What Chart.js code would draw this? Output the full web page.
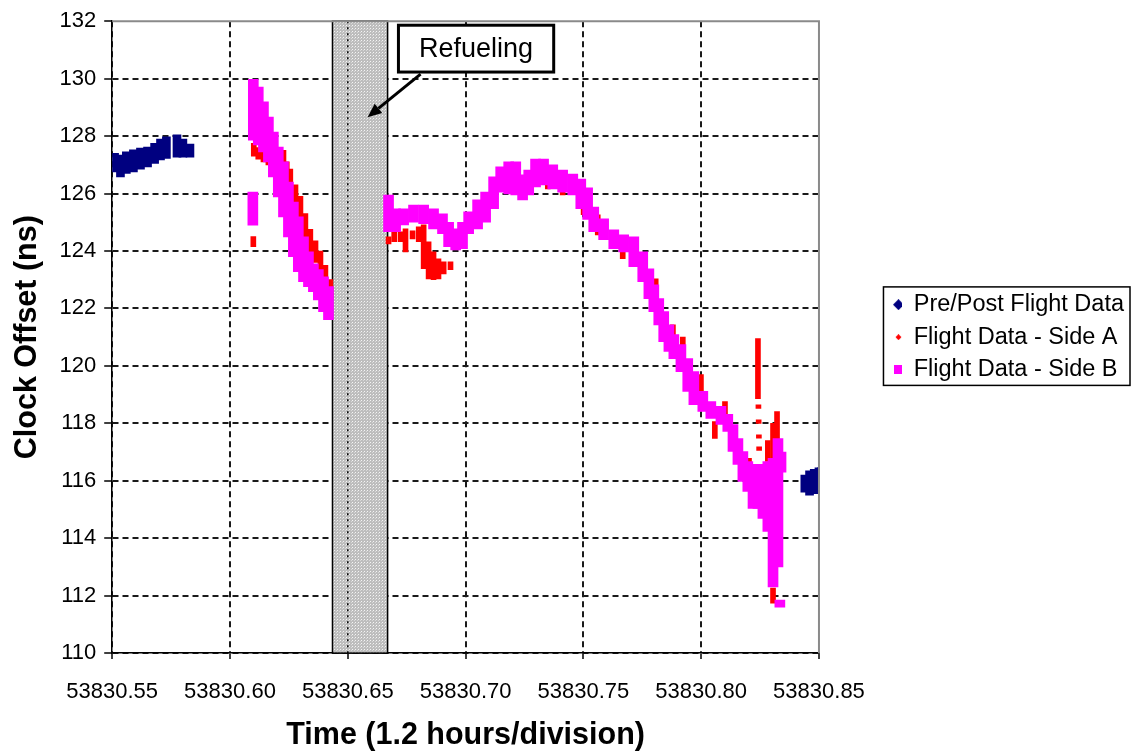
<!DOCTYPE html>
<html><head><meta charset="utf-8">
<script src="https://cdn.jsdelivr.net/npm/chart.js@4/dist/chart.umd.min.js"></script>
<style>html,body{margin:0;padding:0;background:#fff}#wrap{width:1136px;height:753px}</style>
</head><body><div id="wrap"><canvas id="c" width="1136" height="753"></canvas></div>
<script>
// ---- data: [time (MJD), low, high] of each plotted column of points ----
const prePostFlight = [
 [53830.5480,126.93,127.52],[53830.5510,126.75,127.40],[53830.5535,126.58,127.34],
 [53830.5560,126.70,127.45],[53830.5590,126.75,127.52],[53830.5620,126.85,127.58],
 [53830.5650,126.93,127.62],[53830.5680,127.05,127.75],[53830.5705,127.17,127.90],
 [53830.5730,127.22,127.97],[53830.5775,127.27,128.04],[53830.5800,127.27,127.90],
 [53830.5830,127.27,127.72],
 [53830.8440,115.60,116.20],[53830.8460,115.50,116.35],[53830.8480,115.55,116.40],
 [53830.8500,115.60,116.45],[53830.8510,115.65,116.45]
];
const flightSideA = [
 [53830.6099,124.15,124.50],[53830.6101,127.30,127.75],[53830.6120,127.20,127.60],
 [53830.6142,127.10,127.50],[53830.6163,127.00,127.60],[53830.6184,127.10,127.70],
 [53830.6205,127.10,127.60],[53830.6227,126.60,127.50],[53830.6241,126.30,127.10],
 [53830.6256,125.95,126.85],[53830.6278,125.45,126.30],[53830.6299,125.00,125.90],
 [53830.6320,124.40,125.30],[53830.6341,123.90,124.75],[53830.6363,123.60,124.35],
 [53830.6384,123.20,124.00],[53830.6405,122.75,123.50],[53830.6426,122.30,123.00],
 [53830.6673,124.25,124.49],[53830.6697,124.32,124.67],[53830.6724,124.32,124.67],
 [53830.6745,123.97,124.77],[53830.6775,124.42,124.70],[53830.6801,124.32,124.84],
 [53830.6822,123.38,124.91],[53830.6843,123.03,124.32],[53830.6864,123.00,123.97],
 [53830.6885,123.03,123.73],[53830.6907,123.20,123.62],[53830.6936,123.35,123.62],
 [53830.7349,126.16,126.40],[53830.7412,125.95,126.30],[53830.7501,125.26,125.70],
 [53830.7561,124.56,125.26],[53830.7667,123.73,124.08],[53830.7807,122.48,123.03],
 [53830.7880,120.80,121.43],[53830.7922,120.39,121.00],[53830.7999,119.00,119.70],
 [53830.8058,117.47,118.06],[53830.8101,118.31,118.76],[53830.8203,116.22,116.78],
 [53830.8241,118.86,120.95],[53830.8243,118.52,118.64],[53830.8244,118.00,118.12],
 [53830.8245,117.48,117.60],[53830.8246,117.06,117.18],[53830.8283,116.67,117.40],
 [53830.8305,116.67,118.00],[53830.8322,117.00,118.41],[53830.8305,111.74,112.26]
];
const flightSideB = [
 [53830.6097,124.90,126.05],
 [53830.6099,127.86,129.98],[53830.6120,127.69,129.71],[53830.6142,127.45,129.19],
 [53830.6163,127.10,128.66],[53830.6184,126.58,128.14],[53830.6205,125.88,127.62],
 [53830.6227,125.19,127.10],[53830.6248,124.49,126.40],[53830.6269,123.80,125.70],
 [53830.6290,123.28,125.19],[53830.6312,122.93,124.49],[53830.6333,122.76,123.97],
 [53830.6354,122.58,123.55],[53830.6375,122.30,123.35],[53830.6397,121.89,123.10],
 [53830.6418,121.61,122.76],
 [53830.6673,124.67,125.95],[53830.6703,124.67,125.47],[53830.6737,124.91,125.47],
 [53830.6779,125.00,125.60],[53830.6822,124.95,125.60],[53830.6864,124.77,125.47],
 [53830.6902,124.60,125.29],[53830.6928,124.15,125.00],[53830.6958,124.04,124.77],
 [53830.6987,124.08,125.00],[53830.7013,124.60,125.36],[53830.7051,124.77,125.78],
 [53830.7085,125.00,126.05],[53830.7119,125.47,126.58],[53830.7149,126.05,126.93],
 [53830.7183,125.99,127.10],[53830.7213,125.95,127.10],[53830.7242,125.78,126.65],
 [53830.7268,125.95,126.82],[53830.7297,126.23,127.20],[53830.7331,126.30,127.20],
 [53830.7370,126.16,127.00],[53830.7412,126.05,126.82],[53830.7455,125.95,126.68],
 [53830.7489,125.47,126.50],[53830.7518,125.10,126.20],[53830.7544,124.67,125.53],
 [53830.7586,124.39,125.12],[53830.7629,124.08,124.74],[53830.7671,123.97,124.56],
 [53830.7714,123.45,124.49],[53830.7752,122.93,123.97],[53830.7778,122.34,123.38],
 [53830.7799,121.89,122.82],[53830.7820,121.43,122.34],[53830.7841,120.84,121.89],
 [53830.7863,120.50,121.43],[53830.7884,120.25,121.09],[53830.7914,119.80,120.74],
 [53830.7943,119.11,120.25],[53830.7969,118.65,119.80],[53830.8007,118.41,119.11],
 [53830.8041,118.17,118.76],[53830.8084,117.96,118.59],[53830.8113,117.72,118.31],
 [53830.8135,117.02,117.96],[53830.8156,116.57,117.47],[53830.8177,115.98,117.02],
 [53830.8198,115.63,116.67],[53830.8220,115.04,116.43],[53830.8241,115.04,116.57],
 [53830.8262,114.69,116.57],[53830.8283,114.24,116.67],[53830.8305,112.30,116.78],
 [53830.8326,113.00,117.47],[53830.8339,116.30,117.00],[53830.8334,111.60,111.85]
];
const seriesNames = ['Pre/Post Flight Data','Flight Data - Side A','Flight Data - Side B'];
const xMin = 53830.55, xMax = 53830.85, xStep = 0.05;
const yMin = 110, yMax = 132, yStep = 2;
const refuelStart = 53830.6435, refuelEnd = 53830.6669;
const refuelText = 'Refueling';
const calloutBox = {x1: 53830.6715, x2: 53830.7374, y1: 130.23, y2: 131.86};
const arrowFrom = {x: 53830.6809, y: 130.16};
const arrowTo = {x: 53830.6584, y: 128.66};

const FONT = '"Liberation Sans", Arial, Helvetica, sans-serif';
Chart.defaults.font.family = FONT;
Chart.defaults.color = '#000';

const ICON_W = 74;
function icon(kind, color, size) {
  const c = document.createElement('canvas');
  c.width = ICON_W; c.height = size;
  const g = c.getContext('2d');
  g.fillStyle = color;
  const x0 = ICON_W - 3.5 - size / 2;
  if (kind === 'diamond') {
    g.beginPath(); g.moveTo(x0 + size/2, 0); g.lineTo(x0 + size, size/2); g.lineTo(x0 + size/2, size); g.lineTo(x0, size/2); g.closePath(); g.fill();
  } else g.fillRect(x0, 0, size, size);
  return c;
}
const legendIcons = [icon('diamond','#000080',11), icon('diamond','#ff0000',6), icon('square','#ff00ff',9)];

function toBars(arr){ return arr.map(r => ({x: r[0], y: [r[1], r[2]]})); }

const pat = (() => {
  const c = document.createElement('canvas'); c.width = 3; c.height = 3;
  const g = c.getContext('2d'); g.fillStyle = '#bdbdbd'; g.fillRect(0,0,3,3);
  g.fillStyle = '#f4f4f4'; g.fillRect(1,1,1,1);
  g.fillStyle = '#d8d8d8'; g.fillRect(0,2,1,1);
  return c;
})();

const isEdge = (v, e) => Math.abs(v - e) < 1e-6;

const decor = {
  id: 'decor',
  beforeDatasetsDraw(chart) {
    const {ctx, scales: {x, y}} = chart;
    const l = x.getPixelForValue(refuelStart), r = x.getPixelForValue(refuelEnd);
    const t = y.getPixelForValue(yMax), b = y.getPixelForValue(yMin);
    ctx.save();
    ctx.fillStyle = ctx.createPattern(pat, 'repeat');
    ctx.fillRect(l, t, r - l, b - t);
    const gx = x.getPixelForValue(53830.65);
    ctx.strokeStyle = '#000'; ctx.lineWidth = 1.5; ctx.setLineDash([2, 4]);
    ctx.beginPath(); ctx.moveTo(gx, t); ctx.lineTo(gx, b); ctx.stroke();
    ctx.setLineDash([]); ctx.lineWidth = 1.5;
    ctx.strokeRect(l, t, r - l, b - t);
    ctx.restore();
  },
  afterDatasetsDraw(chart) {
    const {ctx, scales: {x, y}, chartArea: a} = chart;
    ctx.save();
    ctx.strokeStyle = '#8a8a8a'; ctx.lineWidth = 2; ctx.setLineDash([]);
    ctx.beginPath(); ctx.moveTo(a.left, a.top); ctx.lineTo(a.right, a.top); ctx.lineTo(a.right, a.bottom); ctx.stroke();
    const bx1 = x.getPixelForValue(calloutBox.x1), bx2 = x.getPixelForValue(calloutBox.x2);
    const by1 = y.getPixelForValue(calloutBox.y2), by2 = y.getPixelForValue(calloutBox.y1);
    ctx.fillStyle = '#fff'; ctx.fillRect(bx1, by1, bx2 - bx1, by2 - by1);
    ctx.strokeStyle = '#000'; ctx.lineWidth = 3; ctx.strokeRect(bx1, by1, bx2 - bx1, by2 - by1);
    ctx.fillStyle = '#000'; ctx.font = '27px ' + FONT; ctx.textAlign = 'center'; ctx.textBaseline = 'middle';
    ctx.fillText(refuelText, (bx1 + bx2) / 2, (by1 + by2) / 2 + 1);
    const fx = x.getPixelForValue(arrowFrom.x), fy = y.getPixelForValue(arrowFrom.y);
    const tx = x.getPixelForValue(arrowTo.x), ty = y.getPixelForValue(arrowTo.y);
    const ang = Math.atan2(ty - fy, tx - fx), hl = 14, hw = 6;
    const sx = tx - hl * Math.cos(ang), sy = ty - hl * Math.sin(ang);
    ctx.lineWidth = 3; ctx.beginPath(); ctx.moveTo(fx, fy); ctx.lineTo(sx, sy); ctx.stroke();
    ctx.beginPath(); ctx.moveTo(tx, ty);
    ctx.lineTo(sx + hw * Math.sin(ang), sy - hw * Math.cos(ang));
    ctx.lineTo(sx - hw * Math.sin(ang), sy + hw * Math.cos(ang));
    ctx.closePath(); ctx.fill();
    ctx.restore();
  },
  afterDraw(chart) {
    const lg = chart.legend; if (!lg || !lg.legendHitBoxes.length) return;
    const hb = lg.legendHitBoxes, last = hb[hb.length - 1];
    const ctx = chart.ctx;
    const left = hb[0].left + ICON_W - 3.5 - 15, top = hb[0].top - 6;
    const right = Math.max(...hb.map(h => h.left + h.width)) + 6;
    const bottom = last.top + last.height + 4;
    ctx.save(); ctx.strokeStyle = '#000'; ctx.lineWidth = 1.5;
    ctx.strokeRect(left, top, right - left, bottom - top);
    ctx.restore();
  }
};

const gridColor = (edge) => (c) => (c.tick && isEdge(c.tick.value, edge)) ? 'rgba(0,0,0,0)' : '#1a1a1a';

new Chart(document.getElementById('c'), {
  type: 'bar',
  data: {
    datasets: [
      {label: seriesNames[0], data: toBars(prePostFlight), backgroundColor: '#000080', barThickness: 8, order: 2},
      {label: seriesNames[1], data: toBars(flightSideA), backgroundColor: '#ff0000', barThickness: 5, order: 1},
      {label: seriesNames[2], data: toBars(flightSideB), backgroundColor: '#ff00ff', barThickness: 10, order: 0}
    ]
  },
  options: {
    responsive: false, devicePixelRatio: 1, animation: false,
    datasets: {bar: {grouped: false, borderWidth: 0, borderSkipped: false, minBarLength: 3}},
    layout: {padding: {left: 12, top: 8, right: 2, bottom: 2}},
    plugins: {
      tooltip: {enabled: false},
      legend: {
        position: 'right', maxWidth: 500, fullSize: false,
        labels: {
          font: {size: 23.5}, color: '#000', usePointStyle: true, pointStyleWidth: ICON_W, boxHeight: 7, padding: 9,
          generateLabels: (chart) => chart.data.datasets.map((ds, i) => ({
            text: ds.label, fillStyle: ds.backgroundColor, strokeStyle: ds.backgroundColor,
            lineWidth: 0, pointStyle: legendIcons[i], hidden: false, datasetIndex: i, fontColor: '#000'
          }))
        },
        onClick: () => {}
      }
    },
    scales: {
      x: {
        type: 'linear', min: xMin, max: xMax, offset: false,
        ticks: {stepSize: xStep, font: {size: 22}, color: '#000', padding: 20, maxRotation: 0,
          callback: (v) => Number(v).toFixed(2)},
        grid: {color: gridColor(xMax), lineWidth: 2, tickColor: '#000', tickWidth: 1.5, tickLength: 6, offset: false},
        border: {display: true, color: '#000', width: 1.5, dash: [6, 4]},
        title: {display: true, text: 'Time (1.2 hours/division)', font: {size: 30.5, weight: 'bold', lineHeight: 1}, color: '#000', padding: {top: -5, bottom: 0}}
      },
      y: {
        type: 'linear', min: yMin, max: yMax,
        ticks: {stepSize: yStep, font: {size: 22}, color: '#000', padding: 8},
        grid: {color: gridColor(yMax), lineWidth: 2, tickColor: '#000', tickWidth: 1.5, tickLength: 8},
        border: {display: true, color: '#000', width: 1.5, dash: [6, 4]},
        title: {display: true, text: 'Clock Offset (ns)', font: {size: 30.5, weight: 'bold', lineHeight: 1}, color: '#000', padding: {top: 0, bottom: 9}}
      }
    }
  },
  plugins: [decor]
});
</script></body></html>
